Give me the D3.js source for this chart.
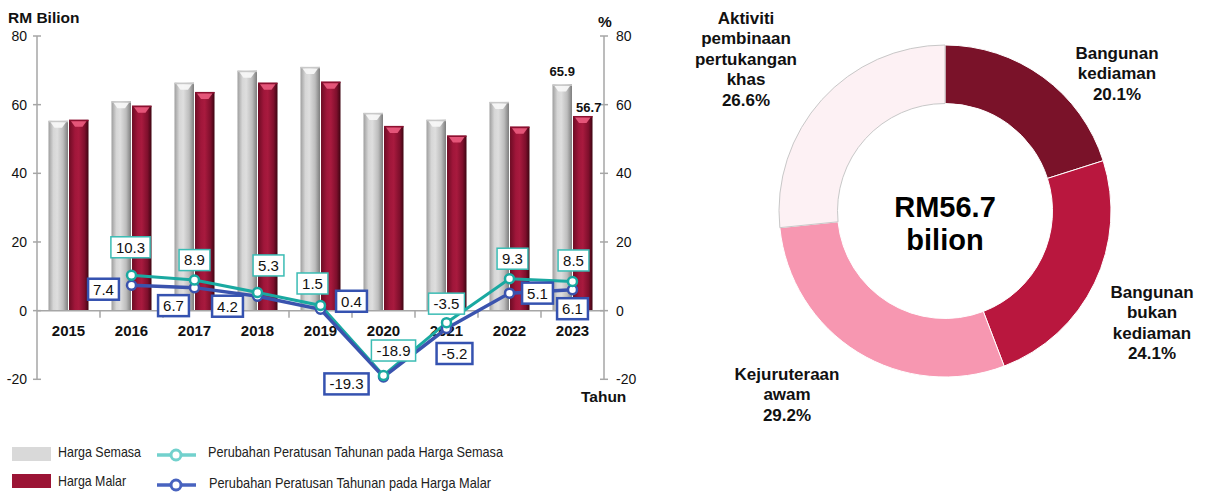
<!DOCTYPE html>
<html><head><meta charset="utf-8">
<script src="https://cdn.jsdelivr.net/npm/d3@7"></script>
<style>
html,body{margin:0;padding:0;background:#fff;}
svg{display:block;font-family:"Liberation Sans",Arial,sans-serif;}
</style></head>
<body>
<svg id="chart" width="1209" height="493"></svg>
<script>
// ---------- DATA ----------
const years = ["2015","2016","2017","2018","2019","2020","2021","2022","2023"];
const hargaSemasa = [55.3, 61.0, 66.4, 69.9, 71.0, 57.6, 55.6, 60.8, 65.9];
const hargaMalar  = [55.6, 59.7, 63.7, 66.4, 66.7, 53.8, 51.0, 53.6, 56.7];
const pctSemasa = [null, 10.3, 8.9, 5.3, 1.5, -18.9, -3.5, 9.3, 8.5];
const pctMalar  = [null, 7.4, 6.7, 4.2, 0.4, -19.3, -5.2, 5.1, 6.1];
const leftTicks = [-20, 0, 20, 40, 60, 80];
const rightTicks = [-20, 0, 20, 40, 60, 80];
const legendNames = ["Harga Semasa","Harga Malar","Perubahan Peratusan Tahunan pada Harga Semasa","Perubahan Peratusan Tahunan pada Harga Malar"];
const donutLabels = [
  ["Bangunan","kediaman"],
  ["Bangunan","bukan","kediaman"],
  ["Kejuruteraan","awam"],
  ["Aktiviti","pembinaan","pertukangan","khas"]
];
const donutValues = [20.1, 24.1, 29.2, 26.6];
const donutTotal = "RM56.7";
const donutUnit = "bilion";

// ---------- LAYOUT (label placement, px offsets from point) ----------
const offSemasa = [null,[-1,-28],[0,-20],[11,-27],[-8,-22],[10,-25],[0,-19],[3,-20],[1,-21]];
const offMalar  = [null,[-28,4],[-21,18],[-30,10],[31,-8],[-37,7],[8,25],[28,0],[0,19]];
const donutLabelPos = [[1117,53],[1152,292],[787,374],[746,18]];

const svg = d3.select("#chart");

// ---------- SCALES ----------
const x0 = d3.scaleBand().domain(years).range([37,604]).padding(0);
const x1 = d3.scaleBand().domain(["s","m"]).range([0,x0.bandwidth()]).paddingInner(0.05).paddingOuter(0.56);
const yL = d3.scaleLinear().domain([-20,80]).range([379.3,36]);
const yR = d3.scaleLinear().domain([-20,80]).range([379.3,36]);
const cx = d => x0(d) + x0.bandwidth()/2;

// ---------- DEFS ----------
const defs = svg.append("defs");
function grad(id, stops){
  const g = defs.append("linearGradient").attr("id",id).attr("x1","0").attr("x2","1").attr("y1","0").attr("y2","0");
  stops.forEach(s=>g.append("stop").attr("offset",s[0]).attr("stop-color",s[1]));
}
grad("gGray",[["0%","#9e9e9e"],["25%","#d6d6d6"],["45%","#dedede"],["75%","#bdbdbd"],["100%","#7d7d7d"]]);
grad("gRed",[["0%","#6d0c24"],["30%","#a0163a"],["50%","#a81a3e"],["80%","#7e0f2c"],["100%","#3e0512"]]);

// ---------- AXES ----------
const axisColor = "#a6a6a6";
const gAx = svg.append("g");
gAx.append("line").attr("x1",37).attr("x2",37).attr("y1",yL(80)).attr("y2",yL(-20)).attr("stroke",axisColor).attr("stroke-width",1.5);
gAx.append("line").attr("x1",604).attr("x2",604).attr("y1",yR(80)).attr("y2",yR(-20)).attr("stroke",axisColor).attr("stroke-width",1.5);
leftTicks.forEach(t=>{
  gAx.append("line").attr("x1",33).attr("x2",41).attr("y1",yL(t)).attr("y2",yL(t)).attr("stroke",axisColor).attr("stroke-width",1.5);
  gAx.append("text").attr("x",27).attr("y",yL(t)).attr("dy","0.35em").attr("text-anchor","end")
    .attr("font-size",14).attr("fill","#111").text(t);
});
rightTicks.forEach(t=>{
  gAx.append("line").attr("x1",600).attr("x2",608).attr("y1",yR(t)).attr("y2",yR(t)).attr("stroke",axisColor).attr("stroke-width",1.5);
  gAx.append("text").attr("x",616).attr("y",yR(t)).attr("dy","0.35em").attr("text-anchor","start")
    .attr("font-size",14).attr("fill","#111").text(t);
});
svg.append("text").attr("x",8).attr("y",23).attr("font-size",15.5).attr("font-weight","bold").attr("fill","#111").text("RM Bilion");
svg.append("text").attr("x",598).attr("y",27).attr("font-size",15.5).attr("font-weight","bold").attr("fill","#111").text("%");
svg.append("text").attr("x",581).attr("y",402).attr("font-size",15.5).attr("font-weight","bold").attr("fill","#111").text("Tahun");

// ---------- BARS ----------
const gBars = svg.append("g");
years.forEach((yr,i)=>{
  [["s",hargaSemasa[i],"url(#gGray)","#f7f7f7"],["m",hargaMalar[i],"url(#gRed)","#e8587c"]].forEach(([k,v,fill,cap])=>{
    const x = x0(yr)+x1(k), w = x1.bandwidth(), top = yL(v), bot = yL(0);
    gBars.append("rect").attr("x",x).attr("y",top).attr("width",w).attr("height",bot-top).attr("fill",fill);
    gBars.append("rect").attr("x",x).attr("y",top).attr("width",w).attr("height",1.5).attr("fill",k==="s"?"#c9c9c9":"#8c1030");
    gBars.append("path").attr("d",`M${x+2},${top+1.5} L${x+w-2},${top+1.5} L${x+w-6},${top+7} L${x+6},${top+7} Z`)
      .attr("fill",cap).attr("opacity",0.95);
  });
});
gAx.raise();
svg.append("line").attr("x1",37).attr("x2",604).attr("y1",yL(0)).attr("y2",yL(0)).attr("stroke",axisColor).attr("stroke-width",1.5);
years.forEach((yr,i)=>{
  if(i>0) svg.append("line").attr("x1",x0(yr)).attr("x2",x0(yr)).attr("y1",yL(0)).attr("y2",yL(0)+7).attr("stroke",axisColor).attr("stroke-width",1.5);
  svg.append("text").attr("x",cx(yr)).attr("y",336).attr("text-anchor","middle").attr("font-size",15)
    .attr("font-weight","bold").attr("fill","#111").text(yr);
});
svg.append("text").attr("x",x0("2023")+x1("s")+x1.bandwidth()/2).attr("y",yL(hargaSemasa[8])-8).attr("text-anchor","middle")
  .attr("font-size",13).attr("font-weight","bold").attr("fill","#111").text(hargaSemasa[8].toFixed(1));
svg.append("text").attr("x",x0("2023")+x1("m")+x1.bandwidth()/2+6).attr("y",yL(hargaMalar[8])-4).attr("text-anchor","middle")
  .attr("font-size",13).attr("font-weight","bold").attr("fill","#111").text(hargaMalar[8].toFixed(1));

// ---------- LINES ----------
const teal = "#1aa9a1", blue = "#3a53ae";
const lineGen = d3.line().defined(d=>d[1]!==null).x(d=>cx(d[0])).y(d=>yR(d[1]));
const dS = years.map((y,i)=>[y,pctSemasa[i]]);
const dM = years.map((y,i)=>[y,pctMalar[i]]);
svg.append("path").attr("d",lineGen(dS)).attr("fill","none").attr("stroke",teal).attr("stroke-width",3);
svg.append("path").attr("d",lineGen(dM)).attr("fill","none").attr("stroke",blue).attr("stroke-width",3.5);
function markers(data,color){
  svg.append("g").selectAll("circle").data(data.filter(d=>d[1]!==null)).join("circle")
    .attr("cx",d=>cx(d[0])).attr("cy",d=>yR(d[1])).attr("r",4.5)
    .attr("fill","#fff").attr("stroke",color).attr("stroke-width",2.5);
}
markers(dM,blue);
markers(dS,teal);

// ---------- LABEL BOXES ----------
function boxes(data,offs,stroke,sw){
  const g = svg.append("g");
  data.forEach((d,i)=>{
    if(d[1]===null) return;
    const px = cx(d[0])+offs[i][0], py = yR(d[1])+offs[i][1];
    const t = g.append("text").attr("x",px).attr("y",py).attr("dy","0.36em").attr("text-anchor","middle")
      .attr("font-size",15).attr("fill","#111").text(d[1].toFixed(1));
    const bb = t.node().getBBox();
    g.insert("rect","text").attr("x",bb.x-5).attr("y",py-10.5).attr("width",bb.width+10).attr("height",21)
      .attr("fill","#fff").attr("stroke",stroke).attr("stroke-width",sw);
  });
}
boxes(dS,offSemasa,"#3bbcb4",1.5);
boxes(dM,offMalar,"#3552b0",2.5);

// ---------- LEGEND ----------
const lg = svg.append("g").attr("font-size",14.5).attr("fill","#222");
lg.append("rect").attr("x",12).attr("y",447).attr("width",39).attr("height",14).attr("fill","#d9d9d9");
lg.append("text").attr("x",58).attr("y",452).attr("dy","0.35em").attr("textLength",83).attr("lengthAdjust","spacingAndGlyphs").text(legendNames[0]);
lg.append("rect").attr("x",12).attr("y",474).attr("width",39).attr("height",14).attr("fill","#9b1435");
lg.append("text").attr("x",58).attr("y",481).attr("dy","0.35em").attr("textLength",68).attr("lengthAdjust","spacingAndGlyphs").text(legendNames[1]);
lg.append("line").attr("x1",157).attr("x2",196).attr("y1",455).attr("y2",455).attr("stroke","#72d1cd").attr("stroke-width",3.5);
lg.append("circle").attr("cx",176).attr("cy",455).attr("r",5).attr("fill","#fff").attr("stroke","#72d1cd").attr("stroke-width",3);
lg.append("text").attr("x",208).attr("y",452).attr("dy","0.35em").attr("textLength",295).attr("lengthAdjust","spacingAndGlyphs").text(legendNames[2]);
lg.append("line").attr("x1",157).attr("x2",196).attr("y1",485).attr("y2",485).attr("stroke","#4863bf").attr("stroke-width",3.5);
lg.append("circle").attr("cx",176).attr("cy",485).attr("r",5).attr("fill","#fff").attr("stroke","#4863bf").attr("stroke-width",3);
lg.append("text").attr("x",209).attr("y",483).attr("dy","0.35em").attr("textLength",282).attr("lengthAdjust","spacingAndGlyphs").text(legendNames[3]);

// ---------- DONUT ----------
const donutColors = ["#7a1229","#b9173e","#f797b1","#fdf1f4"];
const pie = d3.pie().sort(null).value(d=>d);
const arc = d3.arc().innerRadius(107.5).outerRadius(166);
const gd = svg.append("g").attr("transform","translate(945,211)");
gd.selectAll("path").data(pie(donutValues)).join("path")
  .attr("d",arc).attr("fill",(d,i)=>donutColors[i])
  .attr("stroke",(d,i)=>i===3?"#c8c8c8":"#ffffff").attr("stroke-width",1);
gd.append("text").attr("x",0).attr("y",6).attr("text-anchor","middle").attr("font-size",29).attr("font-weight","bold").attr("fill","#000").text(donutTotal);
gd.append("text").attr("x",0).attr("y",39).attr("text-anchor","middle").attr("font-size",29).attr("font-weight","bold").attr("fill","#000").text(donutUnit);
donutLabels.forEach((lines,i)=>{
  const [lx,ly] = donutLabelPos[i];
  const t = svg.append("text").attr("text-anchor","middle").attr("font-size",17).attr("font-weight","bold").attr("fill","#111");
  lines.concat([donutValues[i].toFixed(1)+"%"]).forEach((s,j)=>{
    t.append("tspan").attr("x",lx).attr("y",ly+j*20.5).attr("dy","0.35em").text(s);
  });
});
</script>
</body></html>
